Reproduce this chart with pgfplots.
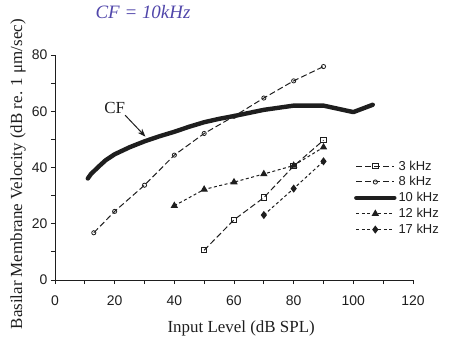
\documentclass[border=0pt]{standalone}
\usepackage{pgfplots}
\pgfplotsset{compat=1.18}
\usepackage{fontspec}
\setmainfont{Liberation Serif}
\setsansfont{Liberation Sans}
\usetikzlibrary{arrows.meta}
\definecolor{ink}{RGB}{30,30,30}
\definecolor{pen}{RGB}{80,70,170}
\begin{document}
\begin{tikzpicture}
\useasboundingbox (-55bp,-74bp) rectangle (395bp,280bp);
\begin{axis}[
  at={(0,0)}, anchor=south west,
  scale only axis, width=358bp, height=225bp,
  xmin=0, xmax=120, ymin=0, ymax=80,
  axis x line*=bottom, axis y line*=left,
  axis line style={ink, line width=1pt},
  xtick={0,20,...,120}, minor xtick={10,30,...,110},
  ytick={0,20,...,80}, minor ytick={10,30,50,70},
  tick align=outside, major tick length=4bp, minor tick length=4bp,
  tick style={ink, line width=0.9pt},
  ticklabel style={font=\sffamily\fontsize{14}{15}\selectfont, text=ink},
  xticklabel style={yshift=-8bp},
  /pgf/number format/assume math mode=true,
  xlabel={Input Level (dB SPL)},
  ylabel={Basilar Membrane Velocity (dB re. 1 μm/sec)},
  label style={font=\fontsize{17}{18}\selectfont, text=ink},
  x label style={at={(axis description cs:0.52,0)}, yshift=-48bp, anchor=center},
  y label style={at={(axis description cs:0,0.47)}, yshift=37bp, anchor=center},
  legend style={at={(0.835,0.54)}, anchor=north west, draw=none, fill=none,
    font=\sffamily\fontsize{13}{14}\selectfont, text=ink, row sep=1bp, inner sep=0pt},
  legend cell align=left,
  legend image code/.code={\draw[mark repeat=2,mark phase=2] plot coordinates {(0bp,0bp) (19bp,0bp) (38bp,0bp)};},
]
\addplot[ink, line width=1pt, dash pattern=on 6bp off 3bp, mark=square, mark size=2.7bp, mark options={solid, fill=white, line width=1pt}]
  coordinates {(50,10.6) (60,21.4) (70,29.3) (80,40.5) (90,49.7)};
\addlegendentry{3 kHz}
\addplot[ink, line width=1pt, dash pattern=on 6bp off 3bp, mark=o, mark size=2.1bp, mark options={solid, fill=white, line width=0.8pt}]
  coordinates {(13,16.8) (20,24.4) (30,33.7) (40,44.4) (50,52.1) (60,58.2) (70,64.7) (80,70.8) (90,75.9)};
\addlegendentry{8 kHz}
\addplot[ink, line width=4.4bp, line join=round, line cap=round]
  coordinates {(11,36.1) (12,37.6) (14.5,40.2) (17,42.6) (20,44.7) (25,47.2) (30,49.3) (35,51.1) (40,52.7) (45,54.5) (50,56.1) (55,57.3) (60,58.3) (70,60.5) (80,62) (90,62) (100,59.7) (106.5,62.3)};
\addlegendentry{10 kHz}
\addplot[ink, line width=1pt, dash pattern=on 3bp off 2.5bp, mark=triangle*, mark size=3.3bp, mark options={solid, fill=ink}]
  coordinates {(40,26.4) (50,32.2) (60,34.8) (70,37.7) (80,40.7) (90,47.2)};
\addlegendentry{12 kHz}
\addplot[ink, line width=1pt, dash pattern=on 3bp off 2.5bp, mark=diamond*, mark size=3.3bp, mark options={solid, fill=ink}]
  coordinates {(70,23.1) (80,32.5) (90,42.2)};
\addlegendentry{17 kHz}
\node[font=\fontsize{17}{18}\selectfont, text=ink] at (axis cs:20,61) {CF};
\draw[ink, line width=1pt, -{Stealth[length=8bp, width=6bp]}] (axis cs:23.5,58.6) -- (axis cs:30.3,51);
\end{axis}
\node[text=pen, font=\itshape\fontsize{19}{21}\selectfont, anchor=center] at (88bp,268bp) {CF = 10kHz};
\end{tikzpicture}
\end{document}
